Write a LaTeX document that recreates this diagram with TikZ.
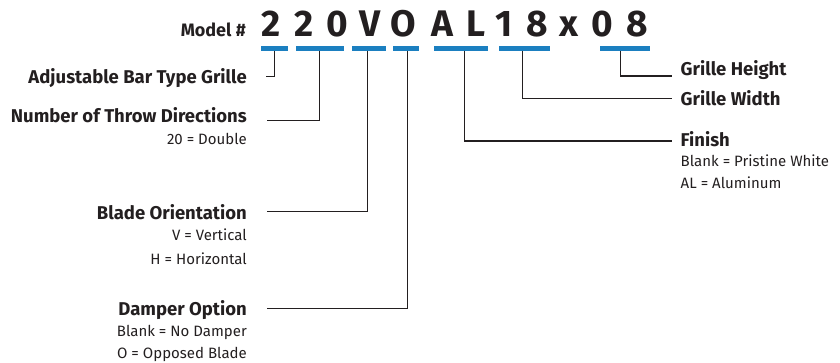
\documentclass[tikz,border=0pt]{standalone}
\usepackage{fontspec}
\setmainfont{Fira Sans}
\definecolor{txt}{HTML}{231F20}
\definecolor{barblue}{HTML}{1B7FC0}
\begin{document}
\begin{tikzpicture}[x=1pt,y=-1pt,
  code/.style={inner sep=0pt,anchor=base,text=txt,font=\fontsize{37}{40}\selectfont\bfseries},
  bar/.style={fill=barblue,draw=none,minimum height=5pt,inner sep=0pt,anchor=north west},
  head/.style={inner sep=0pt,text=txt,font=\fontsize{18.5}{22}\selectfont\bfseries},
  sub/.style={inner sep=0pt,text=txt,font=\fontsize{15}{18}\selectfont},
  conn/.style={draw=txt,line width=1.2pt}]
\useasboundingbox (0,0) rectangle (840,362);
% model number
\node[inner sep=0pt,anchor=base east,text=txt,font=\fontsize{18}{21}\selectfont\bfseries] (model) at (246,36.5) {Model \#};
\node[code] (c1) at (271,36) {2};
\node[code] (c2) at (304,36) {2};
\node[code] (c3) at (337.5,36) {0};
\node[code] (c4) at (370,36) {V};
\node[code] (c5) at (403,36) {O};
\node[code] (c6) at (442.5,36) {A};
\node[code] (c7) at (476,36) {L};
\node[code] (c8) at (504,36) {1};
\node[code] (c9) at (537,36) {8};
\node[code] (c10) at (569,36) {x};
\node[code] (c11) at (602.5,36) {0};
\node[code] (c12) at (637,36) {8};
% bars
\node[bar,minimum width=26.5pt] (b1) at (261,45.5) {};
\node[bar,minimum width=48pt] (b2) at (295.3,45.5) {};
\node[bar,minimum width=34pt] (b3) at (351.7,45.5) {};
\node[bar,minimum width=26.7pt] (b4) at (392.3,45.5) {};
\node[bar,minimum width=53.7pt] (b5) at (434,45.5) {};
\node[bar,minimum width=50.3pt] (b6) at (499,45.5) {};
\node[bar,minimum width=50.7pt] (b7) at (599.3,45.5) {};
% left labels
\node[head,anchor=base east] (l1) at (247,83.3) {Adjustable Bar Type Grille};
\node[head,anchor=base east] (l2) at (247,122.2) {Number of Throw Directions};
\node[sub,anchor=base east] (l2a) at (247,144.5) {20 = Double};
\node[head,anchor=base east] (l3) at (247,219.3) {Blade Orientation};
\node[sub,anchor=base east] (l3a) at (247,240.3) {V = Vertical};
\node[sub,anchor=base east] (l3b) at (247,264) {H = Horizontal};
\node[head,anchor=base east] (l4) at (247,315) {Damper Option};
\node[sub,anchor=base east] (l4a) at (247,336.7) {Blank = No Damper};
\node[sub,anchor=base east] (l4b) at (247,358.3) {O = Opposed Blade};
% right labels
\node[head,anchor=base west] (r1) at (680.5,75.3) {Grille Height};
\node[head,anchor=base west] (r2) at (680.5,105) {Grille Width};
\node[head,anchor=base west] (r3) at (680.5,146.7) {Finish};
\node[sub,anchor=base west] (r3a) at (680.5,166.8) {Blank = Pristine White};
\node[sub,anchor=base west] (r3b) at (680.5,188.5) {AL = Aluminum};
% connector ends
\coordinate (e1) at (265.5,76.8);
\coordinate (e2) at (266.5,120.6);
\coordinate (e3) at (266.5,211.7);
\coordinate (e4) at (266.5,308.3);
\coordinate (e5) at (671.5,141);
\coordinate (e6) at (671.5,98.3);
\coordinate (e7) at (671.5,76);
% connectors
\draw[conn] ([xshift=-0.3pt]b1.south) |- (e1);
\draw[conn] ([xshift=-0.3pt]b2.south) |- (e2);
\draw[conn] ([xshift=-1.7pt]b3.south) |- (e3);
\draw[conn] ([xshift=1.3pt]b4.south) |- (e4);
\draw[conn] ([xshift=3.5pt]b5.south) |- (e5);
\draw[conn] ([xshift=-1.8pt]b6.south) |- (e6);
\draw[conn] ([xshift=-4.7pt]b7.south) |- (e7);
\end{tikzpicture}
\end{document}
